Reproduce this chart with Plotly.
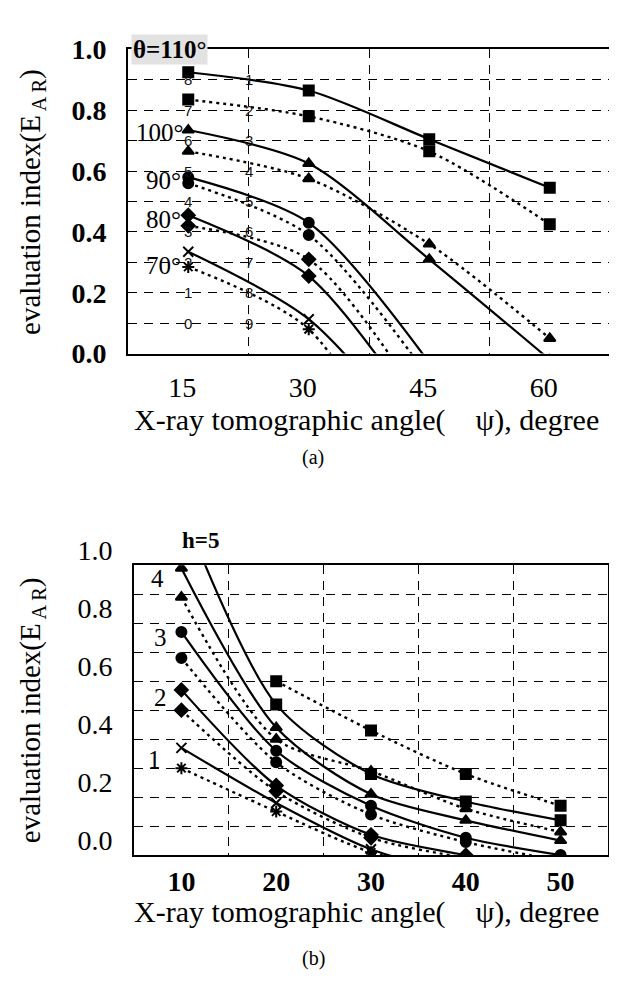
import plotly.graph_objects as go

# ---------------- data : panel (a) ----------------
xa = [15, 30, 45, 60]
a110_solid = [0.925, 0.865, 0.705, 0.545]
a110_dot = [0.835, 0.78, 0.665, 0.425]
a100_solid = [0.735, 0.625, 0.31, -0.02]
a100_dot = [0.665, 0.575, 0.36, 0.05]
a90_solid = [0.58, 0.43, -0.03, None]
a90_dot = [0.56, 0.39, -0.08, None]
a80_solid = [0.455, 0.255, -0.25, None]
a80_dot = [0.42, 0.31, -0.2, None]
a70_solid = [0.335, 0.113, -0.33, None]
a70_dot = [0.285, 0.08, -0.55, None]
a_xticks = [15, 30, 45, 60]
a_small_left = ["8", "7", "6", "5", "4", "3", "2", "1", "0"]
a_small_right = ["1", "2", "3", "4", "5", "6", "7", "8", "9"]
a_small_levels = [0.9, 0.8, 0.7, 0.6, 0.5, 0.4, 0.3, 0.2, 0.1]

# ---------------- data : panel (b) ----------------
xb = [10, 20, 30, 40, 50]
b5_solid = [1.2, 0.52, 0.28, 0.185, 0.12]
b5_dot = [None, 0.60, 0.43, 0.28, 0.17]
b4_solid = [0.99, 0.44, 0.21, 0.12, 0.05]
b4_dot = [0.89, 0.40, 0.29, 0.16, 0.08]
b3_solid = [0.77, 0.36, 0.17, 0.06, 0.0]
b3_dot = [0.68, 0.32, 0.14, 0.045, -0.02]
b2_solid = [0.57, 0.24, 0.07, 0.0, -0.05]
b2_dot = [0.50, 0.22, 0.06, -0.01, -0.06]
b1_solid = [0.37, 0.18, 0.02, -0.07, None]
b1_dot = [0.30, 0.15, 0.01, -0.06, None]
b_xticks = [10, 20, 30, 40, 50]

yticks = [0.0, 0.2, 0.4, 0.6, 0.8, 1.0]
ytick_text = ["0.0", "0.2", "0.4", "0.6", "0.8", "1.0"]

SERIF = "Liberation Serif"
fig = go.Figure()


def add(x, y, symbol, dotted, xaxis, yaxis, msize=10):
    fig.add_trace(go.Scatter(
        x=x, y=y, mode="lines+markers", xaxis=xaxis, yaxis=yaxis,
        line=dict(color="black", width=2.2 if not dotted else 2.4,
                  dash="3px,4px" if dotted else "solid", shape="spline", smoothing=0.8),
        marker=dict(symbol=symbol, size=msize, color="black",
                    line=dict(color="black", width=2)),
        showlegend=False, hoverinfo="skip"))


# panel (a)
add(xa, a110_solid, "square", False, "x", "y")
add(xa, a110_dot, "square", True, "x", "y")
add(xa, a100_solid, "triangle-up", False, "x", "y")
add(xa, a100_dot, "triangle-up", True, "x", "y")
add(xa, a90_solid, "circle", False, "x", "y")
add(xa, a90_dot, "circle", True, "x", "y")
add(xa, a80_solid, "diamond", False, "x", "y")
add(xa, a80_dot, "diamond", True, "x", "y")
add(xa, a70_solid, "x-thin-open", False, "x", "y")
add(xa, a70_dot, "asterisk-open", True, "x", "y")

# panel (b)
add(xb, b5_solid, "square", False, "x2", "y2")
add(xb, b5_dot, "square", True, "x2", "y2")
add(xb, b4_solid, "triangle-up", False, "x2", "y2")
add(xb, b4_dot, "triangle-up", True, "x2", "y2")
add(xb, b3_solid, "circle", False, "x2", "y2")
add(xb, b3_dot, "circle", True, "x2", "y2")
add(xb, b2_solid, "diamond", False, "x2", "y2")
add(xb, b2_dot, "diamond", True, "x2", "y2")
add(xb, b1_solid, "x-thin-open", False, "x2", "y2")
add(xb, b1_dot, "asterisk-open", True, "x2", "y2")

W, H = 617, 988
OFF = 8  # the page's body margin shifts the drawing by this much


def px(x):
    return (x - OFF) / W


def py(y):
    return 1 - (y - OFF) / H


DASH = "9px,7px"
common_axis = dict(showline=True, linecolor="black", linewidth=2, mirror=True,
                   ticks="", zeroline=False)

fig.update_layout(
    width=W, height=H, margin=dict(l=0, r=0, t=0, b=0),
    paper_bgcolor="white", plot_bgcolor="white",
    xaxis=dict(domain=[px(128), px(610)], range=[7.5, 67.5], anchor="y",
               tickvals=a_xticks, showgrid=False, ticklabelstandoff=8,
               ticklabelshift=-6,
               minor=dict(tickvals=[22.5, 37.5, 52.5], showgrid=True, gridcolor="black",
                          gridwidth=1, griddash=DASH),
               tickfont=dict(family=SERIF, size=28, color="black"), **common_axis),
    yaxis=dict(domain=[py(339), py(20)], range=[0, 1], anchor="x",
               tickvals=yticks, ticktext=["<b>%s</b>" % t for t in ytick_text],
               showgrid=True, gridcolor="black", gridwidth=1, griddash=DASH,
               minor=dict(dtick=0.1, showgrid=True, gridcolor="black", gridwidth=1,
                          griddash=DASH),
               tickfont=dict(family=SERIF, size=28, color="black"),
               ticklabelstandoff=14, **common_axis),
    xaxis2=dict(domain=[px(134), px(608)], range=[5, 55], anchor="y2",
                tickvals=b_xticks, ticktext=["<b>%d</b>" % t for t in b_xticks],
                showgrid=False,
                minor=dict(tickvals=[15, 25, 35, 45], showgrid=True, gridcolor="black",
                           gridwidth=1, griddash=DASH),
                tickfont=dict(family=SERIF, size=28, color="black"), **common_axis),
    yaxis2=dict(domain=[py(865), py(561)], range=[0, 1], anchor="x2",
                tickvals=yticks, ticktext=ytick_text, ticklabelshift=-15,
                showgrid=True, gridcolor="black", gridwidth=1, griddash=DASH,
                minor=dict(dtick=0.1, showgrid=True, gridcolor="black", gridwidth=1,
                           griddash=DASH),
                tickfont=dict(family=SERIF, size=28, color="black"),
                ticklabelstandoff=14, **common_axis),
)

ann = []


def text(x, y, s, size=26, angle=0, family=SERIF):
    ann.append(dict(x=px(x), y=py(y), xref="paper", yref="paper", text=s,
                    showarrow=False, textangle=angle, xanchor="center", yanchor="middle",
                    font=dict(family=family, size=size, color="black")))


# panel (a) labels
ann.append(dict(x=px(131), y=py(20), xref="paper", yref="paper", text="<b>θ=110°</b>",
                showarrow=False, xanchor="left", yanchor="middle", bgcolor="#e2e2e2",
                font=dict(family=SERIF, size=25, color="black"), borderpad=1))
text(160, 107, "100°", size=25)
text(163, 157, "90°", size=25)
text(163, 198, "80°", size=25)
text(164, 247, "70°", size=25)
for lab, lev in zip(a_small_left, a_small_levels):
    ann.append(dict(x=15, y=lev, xref="x", yref="y", text=lab, showarrow=False,
                    xanchor="center", yanchor="middle",
                    font=dict(family="Liberation Sans", size=15, color="#111")))
for lab, lev in zip(a_small_right, a_small_levels):
    ann.append(dict(x=22.6, y=lev, xref="x", yref="y", text=lab, showarrow=False,
                    xanchor="center", yanchor="middle",
                    font=dict(family="Liberation Sans", size=15, color="#111")))
text(366, 409, "X-ray tomographic angle(    ψ), degree", size=30)
text(32, 180, "evaluation index(E<sub> A R</sub>)", size=29, angle=-90)
text(313, 448, "(a)", size=20)

# panel (b) labels
text(200, 535, "<b>h=5</b>", size=23)
text(157, 575, "4", size=25)
text(160, 637, "3", size=25)
text(160, 700, "2", size=25)
text(154, 765, "1", size=25)
text(366, 925, "X-ray tomographic angle(    ψ), degree", size=30)
text(32, 713, "evaluation index(E<sub> A R</sub>)", size=29, angle=-90)
text(313, 973, "(b)", size=20)

fig.update_layout(annotations=ann)
fig.write_html("out.html")
